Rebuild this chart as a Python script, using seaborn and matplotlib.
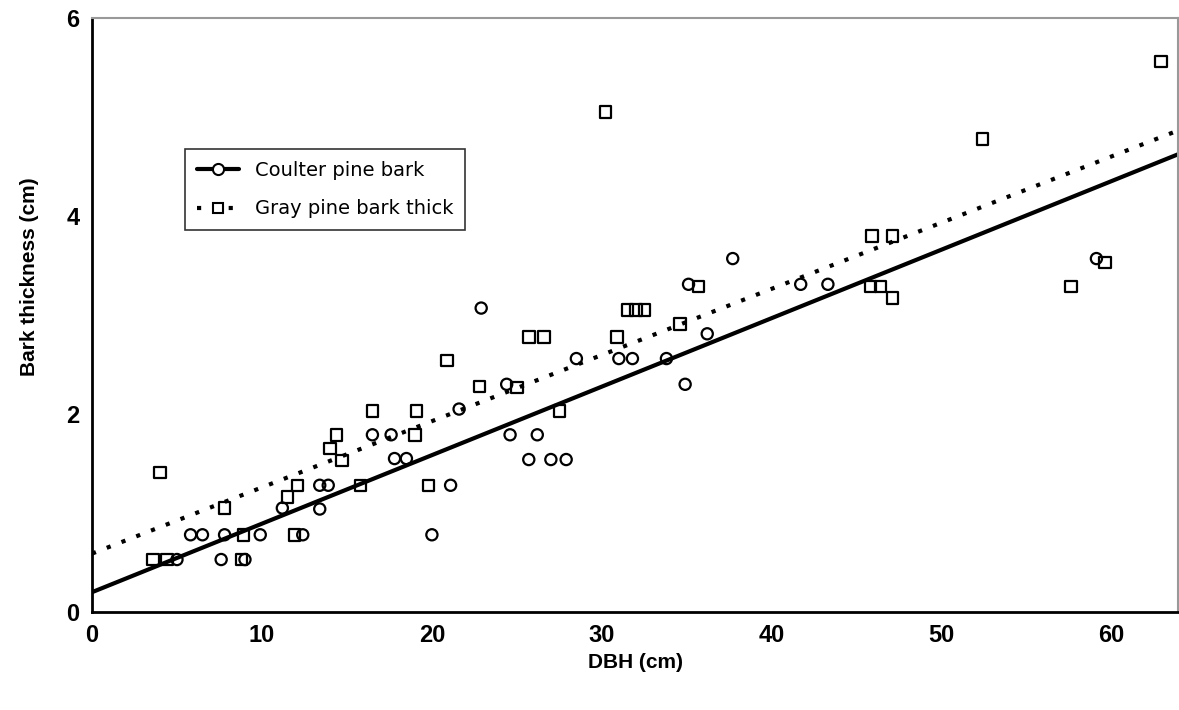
import numpy as np
import pandas as pd
import matplotlib
matplotlib.use("Agg")
import matplotlib.pyplot as plt
import seaborn as sns
from matplotlib.lines import Line2D
from matplotlib.ticker import MultipleLocator

# Coulter pine (circles)
coulter_dbh = [5.0, 5.8, 6.5, 7.6, 7.8, 9.0, 9.9, 11.2, 12.4, 13.4, 13.4, 13.9,
               16.5, 17.6, 17.8, 18.5, 20.0, 21.1, 21.6, 22.9, 24.4, 24.6, 26.2,
               25.7, 27.0, 27.9, 28.5, 31.0, 31.8, 33.8, 34.9, 35.1, 36.2, 37.7,
               41.7, 43.3, 59.1]
coulter_bark = [0.53, 0.78, 0.78, 0.53, 0.78, 0.53, 0.78, 1.05, 0.78, 1.04, 1.28, 1.28,
                1.79, 1.79, 1.55, 1.55, 0.78, 1.28, 2.05, 3.07, 2.30, 1.79, 1.79,
                1.54, 1.54, 1.54, 2.56, 2.56, 2.56, 2.56, 2.30, 3.31, 2.81, 3.57,
                3.31, 3.31, 3.57]

# Gray pine (squares)
gray_dbh = [3.6, 4.4, 4.0, 7.8, 8.8, 8.9, 11.5, 11.9, 12.1, 14.0, 14.4, 14.7,
            15.8, 16.5, 19.0, 19.1, 19.8, 20.9, 22.8, 25.0, 25.7, 26.6, 27.5,
            30.2, 30.9, 31.5, 32.0, 32.5, 34.6, 35.7, 45.9, 47.1, 45.8, 46.4,
            47.1, 52.4, 57.6, 59.6, 62.9]
gray_bark = [0.53, 0.53, 1.41, 1.05, 0.53, 0.78, 1.16, 0.78, 1.28, 1.65, 1.79, 1.53,
             1.28, 2.03, 1.79, 2.03, 1.28, 2.54, 2.28, 2.27, 2.78, 2.78, 2.03,
             5.05, 2.78, 3.05, 3.05, 3.05, 2.91, 3.29, 3.80, 3.80, 3.29, 3.29,
             3.17, 4.78, 3.29, 3.53, 5.56]

# fitted lines, read at both ends of the x axis
fit_dbh = [0.0, 64.0]
coulter_fit = [0.20, 4.63]
gray_fit = [0.59, 4.87]

sns.set_theme(style="white")
plt.rcParams['font.family'] = ['Liberation Sans', 'DejaVu Sans']
plt.rcParams['text.color'] = 'black'
plt.rcParams['axes.labelcolor'] = 'black'
plt.rcParams['xtick.color'] = 'black'
plt.rcParams['ytick.color'] = 'black'

fig = plt.figure(figsize=(11.79, 7.10), dpi=100)
ax = fig.add_axes([92 / 1179, 1 - 612 / 710, 1086 / 1179, 594 / 710])

sns.lineplot(x=fit_dbh, y=coulter_fit, color='black', lw=3.0, ax=ax)
sns.lineplot(x=fit_dbh, y=gray_fit, color='black', lw=3.0, ax=ax,
             linestyle=(0, (1, 2.8)), dash_capstyle='butt')

sns.scatterplot(x=coulter_dbh, y=coulter_bark, marker='o', s=65, fc='none',
                ec='black', linewidth=1.6, ax=ax, zorder=3)
sns.scatterplot(x=gray_dbh, y=gray_bark, marker='s', s=68, fc='none',
                ec='black', linewidth=1.6, ax=ax, zorder=3)

ax.set_xlim(0, 63.9)
ax.set_ylim(0, 6)
ax.xaxis.set_major_locator(MultipleLocator(10))
ax.xaxis.set_minor_locator(MultipleLocator(2))
ax.yaxis.set_major_locator(MultipleLocator(2))
ax.yaxis.set_minor_locator(MultipleLocator(1))
ax.tick_params(which='both', direction='in', color='black', width=1.2)
ax.tick_params(which='major', length=7, labelsize=17, pad=9)
ax.tick_params(which='minor', length=4)
for lab in ax.get_xticklabels() + ax.get_yticklabels():
    lab.set_fontweight('bold')

ax.set_xlabel('DBH (cm)', fontsize=15, fontweight='bold', labelpad=4)
ax.set_ylabel('Bark thickness (cm)', fontsize=15, fontweight='bold')
ax.yaxis.set_label_coords(-0.049, 0.564)

ax.spines['left'].set_color('black')
ax.spines['left'].set_linewidth(2)
ax.spines['bottom'].set_color('black')
ax.spines['bottom'].set_linewidth(2)
ax.spines['top'].set_color('#999999')
ax.spines['top'].set_linewidth(1.5)
ax.spines['right'].set_color('#999999')
ax.spines['right'].set_linewidth(1.5)

handles = [
    Line2D([], [], color='black', lw=3, marker='o', ms=8, mfc='white', mec='black', mew=1.5),
    Line2D([], [], color='black', lw=3, linestyle=(0, (1, 2.8)), marker='s', ms=7,
           mfc='white', mec='black', mew=1.5),
]
leg = ax.legend(handles, ['Coulter pine bark', 'Gray pine bark thick'],
                loc='upper left', bbox_to_anchor=(0.0856, 0.779),
                prop={'family': 'DejaVu Sans', 'size': 14},
                frameon=True, fancybox=False, edgecolor='black', handlelength=2.2,
                handletextpad=0.8, borderpad=0.6, labelspacing=1.0, borderaxespad=0)
leg.get_frame().set_linewidth(1.2)

plt.savefig('out.png', dpi=100)
